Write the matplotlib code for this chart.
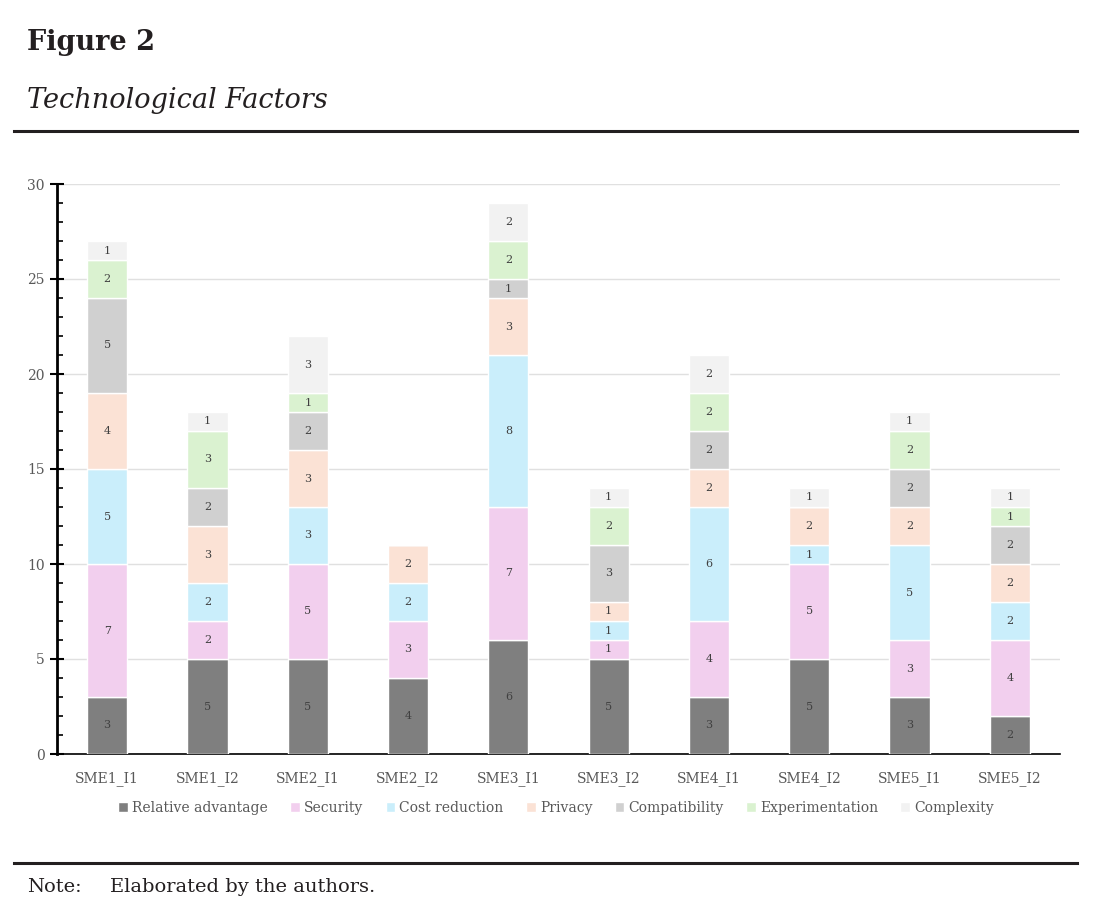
import matplotlib
matplotlib.use("Agg")
import matplotlib.pyplot as plt
from matplotlib.lines import Line2D
from matplotlib.ticker import MultipleLocator
import numpy as np

plt.rcParams['font.family'] = ['DejaVu Serif']

categories = ["SME1_I1", "SME1_I2", "SME2_I1", "SME2_I2", "SME3_I1",
              "SME3_I2", "SME4_I1", "SME4_I2", "SME5_I1", "SME5_I2"]
relative_advantage = [3, 5, 5, 4, 6, 5, 3, 5, 3, 2]
security = [7, 2, 5, 3, 7, 1, 4, 5, 3, 4]
cost_reduction = [5, 2, 3, 2, 8, 1, 6, 1, 5, 2]
privacy = [4, 3, 3, 2, 3, 1, 2, 2, 2, 2]
compatibility = [5, 2, 2, 0, 1, 3, 2, 0, 2, 2]
experimentation = [2, 3, 1, 0, 2, 2, 2, 0, 2, 1]
complexity = [1, 1, 3, 0, 2, 1, 2, 1, 1, 1]

series_names = ["Relative advantage", "Security", "Cost reduction", "Privacy",
                "Compatibility", "Experimentation", "Complexity"]
series_vals = [relative_advantage, security, cost_reduction, privacy,
               compatibility, experimentation, complexity]
colors = ["#7f7f7f", "#f2cfee", "#caeefb", "#fbe2d5", "#d0d0d0", "#daf2d0", "#f2f2f2"]

fig = plt.figure(figsize=(11.12, 9.19), dpi=100)
ax = fig.add_axes([57/1112, 1 - 754/919, (1060 - 57)/1112, (754 - 184)/919])

x = np.arange(len(categories))
bottom = np.zeros(len(categories))
for name, vals, c in zip(series_names, series_vals, colors):
    vals = np.array(vals, dtype=float)
    bars = ax.bar(x, vals, 0.4, bottom=bottom, color=c, edgecolor="white",
                  linewidth=1, label=name, zorder=3)
    for b, v, bt in zip(bars, vals, bottom):
        if v > 0:
            ax.text(b.get_x() + b.get_width()/2, bt + v/2, f"{int(v)}",
                    ha="center", va="center", fontsize=8, color="#404040", zorder=4)
    bottom += vals

ax.set_xlim(-0.5, len(categories) - 0.5)
ax.set_ylim(0, 30)
ax.yaxis.set_major_locator(MultipleLocator(5))
ax.yaxis.set_minor_locator(MultipleLocator(1))
ax.grid(axis="y", which="major", color="#e0e0e0", linewidth=1, zorder=0)
ax.set_xticks(x)
ax.set_xticklabels(categories)
ax.tick_params(axis="x", length=0, pad=12, labelsize=10, labelcolor="#595959")
ax.tick_params(axis="y", which="major", direction="inout", length=10, width=1.5,
               labelsize=10, labelcolor="#595959", pad=4)
ax.tick_params(axis="y", which="minor", direction="in", length=4, width=1.2)
for s in ["top", "right"]:
    ax.spines[s].set_visible(False)
ax.spines["left"].set_linewidth(2)
ax.spines["bottom"].set_linewidth(1.2)

fig.legend(loc="center", bbox_to_anchor=(0.5, 1 - 808/919), ncol=7, frameon=False,
           fontsize=10, handlelength=0.7, handleheight=0.7, handletextpad=0.3,
           columnspacing=1.6, labelcolor="#595959")

fig.text(27/1112, 1 - 42/919, "Figure 2", fontsize=19.5, fontweight="bold",
         va="center", ha="left", color="#231f20")
fig.text(27/1112, 1 - 101/919, "Technological Factors", fontsize=19.5, style="italic",
         va="center", ha="left", color="#231f20")
fig.add_artist(Line2D([14/1112, 1077/1112], [1 - 131/919, 1 - 131/919],
                      color="#231f20", linewidth=2.2))
fig.add_artist(Line2D([14/1112, 1077/1112], [1 - 863/919, 1 - 863/919],
                      color="#231f20", linewidth=2.2))
fig.text(27/1112, 1 - 887/919, "Note:", fontsize=14, va="center", ha="left", color="#231f20")
fig.text(110/1112, 1 - 887/919, "Elaborated by the authors.", fontsize=14,
         va="center", ha="left", color="#231f20")

fig.savefig("out.png", dpi=100)
